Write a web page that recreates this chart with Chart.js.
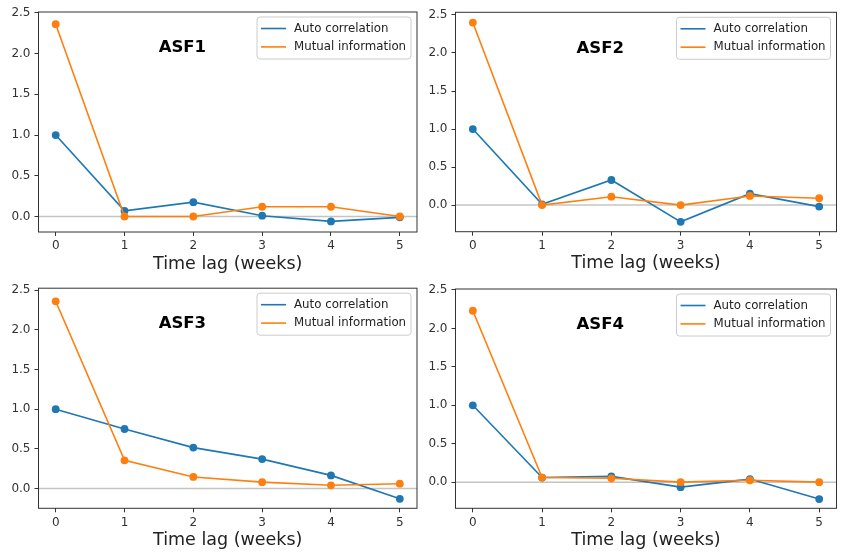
<!DOCTYPE html>
<html>
<head>
<meta charset="utf-8">
<script src="https://cdn.jsdelivr.net/npm/chart.js@4.4.0/dist/chart.umd.min.js"></script>
<style>
  body { margin: 0; background: #fff; }
  #wrap { position: relative; width: 843px; height: 554px; }
  canvas { position: absolute; }
</style>
</head>
<body>
<div id="wrap">
  <canvas id="asf1" width="421" height="277" style="left:0;top:0"></canvas>
  <canvas id="asf2" width="422" height="277" style="left:421px;top:0"></canvas>
  <canvas id="asf3" width="421" height="277" style="left:0;top:277px"></canvas>
  <canvas id="asf4" width="422" height="277" style="left:421px;top:277px"></canvas>
</div>
<script>
// data
const lags = [0, 1, 2, 3, 4, 5];
const xTicks = [0, 1, 2, 3, 4, 5];
const yTicks = [0, 0.5, 1, 1.5, 2, 2.5];
const seriesNames = ['Auto correlation', 'Mutual information'];
const panelNames = ['ASF1', 'ASF2', 'ASF3', 'ASF4'];

const auto1 = [1.0, 0.07, 0.176, 0.01, -0.06, -0.01];
const mutual1 = [2.36, 0.0, 0.0, 0.12, 0.12, 0.0];
const auto2 = [1.0, 0.01, 0.33, -0.22, 0.15, -0.02];
const mutual2 = [2.40, 0.0, 0.11, 0.0, 0.12, 0.09];
const auto3 = [1.0, 0.75, 0.515, 0.37, 0.165, -0.13];
const mutual3 = [2.36, 0.355, 0.145, 0.08, 0.04, 0.06];
const auto4 = [1.0, 0.06, 0.075, -0.065, 0.04, -0.22];
const mutual4 = [2.23, 0.06, 0.05, 0.0, 0.025, 0.0];

const autoData = [auto1, auto2, auto3, auto4];
const mutualData = [mutual1, mutual2, mutual3, mutual4];
const yMin = [-0.19, -0.35, -0.25, -0.34];
const yMax = [2.51, 2.535, 2.525, 2.513];
const xMin = -0.25, xMax = 5.25;

const blue = '#1f77b4';
const orange = '#ff7f0e';
const axisColor = '#333';
const fontName = '"DejaVu Sans", sans-serif';

// layout padding so the plot boxes sit where the reference has them
const pads = [
    {left: 8.5, right: 2, top: 12, bottom: 5},
    {left: 4.5, right: 6.5, top: 12.3, bottom: 5.3},
    {left: 8.5, right: 2, top: 10.3, bottom: 5.7},
    {left: 4.5, right: 6.5, top: 12, bottom: 5.7}
];

// zero line, frame, legend box and panel label, matplotlib style
const mplDecor = {
    id: 'mplDecor',
    beforeDatasetsDraw(chart) {
        const {ctx, chartArea: a, scales} = chart;
        const y0 = scales.y.getPixelForValue(0);
        ctx.save();
        ctx.strokeStyle = '#c4c4c4';
        ctx.lineWidth = 1.5;
        ctx.beginPath();
        ctx.moveTo(a.left, y0);
        ctx.lineTo(a.right, y0);
        ctx.stroke();
        ctx.restore();
    },
    afterDatasetsDraw(chart, args, opts) {
        const {ctx, chartArea: a} = chart;
        ctx.save();
        ctx.strokeStyle = axisColor;
        ctx.lineWidth = 1;
        ctx.strokeRect(a.left, a.top, a.right - a.left, a.bottom - a.top);

        // legend
        const w = 154, h = 42;
        const lx = a.right - 6 - w, ly = a.top + 5;
        ctx.fillStyle = 'rgba(255,255,255,0.8)';
        ctx.strokeStyle = '#cccccc';
        ctx.beginPath();
        ctx.roundRect(lx, ly, w, h, 3);
        ctx.fill();
        ctx.stroke();
        ctx.font = '11.8px ' + fontName;
        ctx.textBaseline = 'middle';
        ctx.textAlign = 'left';
        chart.data.datasets.forEach((ds, i) => {
            const ry = ly + 11.5 + i * 18.4;
            ctx.strokeStyle = ds.borderColor;
            ctx.lineWidth = 1.6;
            ctx.beginPath();
            ctx.moveTo(lx + 4, ry);
            ctx.lineTo(lx + 29, ry);
            ctx.stroke();
            ctx.fillStyle = '#222';
            ctx.fillText(ds.label, lx + 37, ry);
        });

        // panel name
        ctx.font = 'bold 16.5px ' + fontName;
        ctx.fillStyle = '#000';
        ctx.textAlign = 'center';
        ctx.fillText(opts.name, a.left + 0.38 * (a.right - a.left), a.top + 36);
        ctx.restore();
    }
};

function makeChart(i) {
    const toPoints = arr => lags.map((x, k) => ({x: x, y: arr[k]}));
    const config = {
        type: 'line',
        data: {
            datasets: [{
                label: seriesNames[0],
                data: toPoints(autoData[i]),
                borderColor: blue,
                backgroundColor: blue,
                pointBackgroundColor: blue,
                borderWidth: 1.6,
                pointRadius: 3.9,
                pointBorderWidth: 0,
                order: 1
            }, {
                label: seriesNames[1],
                data: toPoints(mutualData[i]),
                borderColor: orange,
                backgroundColor: orange,
                pointBackgroundColor: orange,
                borderWidth: 1.6,
                pointRadius: 3.9,
                pointBorderWidth: 0,
                order: 0
            }]
        },
        options: {
            responsive: false,
            animation: false,
            layout: {padding: pads[i]},
            plugins: {
                legend: {display: false},
                tooltip: {enabled: false},
                mplDecor: {name: panelNames[i]}
            },
            scales: {
                x: {
                    type: 'linear',
                    min: xMin,
                    max: xMax,
                    afterFit: s => { s.height = 40; },
                    afterBuildTicks: s => {
                        s.ticks = xTicks.map(v => ({value: v}));
                    },
                    ticks: {
                        callback: v => String(v),
                        color: axisColor,
                        font: {family: fontName, size: 12},
                        padding: 3,
                        maxRotation: 0
                    },
                    grid: {display: true, drawOnChartArea: false, drawTicks: true, tickLength: 4, color: axisColor},
                    border: {display: false},
                    title: {
                        display: true,
                        text: 'Time lag (weeks)',
                        color: '#222',
                        font: {family: fontName, size: 17.5, lineHeight: 1},
                        padding: {top: 0, bottom: -1}
                    }
                },
                y: {
                    type: 'linear',
                    min: yMin[i],
                    max: yMax[i],
                    afterFit: s => { s.width = 30; },
                    afterBuildTicks: s => {
                        s.ticks = yTicks.filter(v => v >= s.min - 1e-9 && v <= s.max + 1e-9)
                            .map(v => ({value: v}));
                    },
                    ticks: {
                        callback: v => v.toFixed(1),
                        color: axisColor,
                        font: {family: fontName, size: 12},
                        padding: 4
                    },
                    grid: {display: true, drawOnChartArea: false, drawTicks: true, tickLength: 4, color: axisColor},
                    border: {display: false}
                }
            }
        },
        plugins: [mplDecor]
    };
    return new Chart(document.getElementById('asf' + (i + 1)), config);
}

[0, 1, 2, 3].forEach(makeChart);
</script>
</body>
</html>
